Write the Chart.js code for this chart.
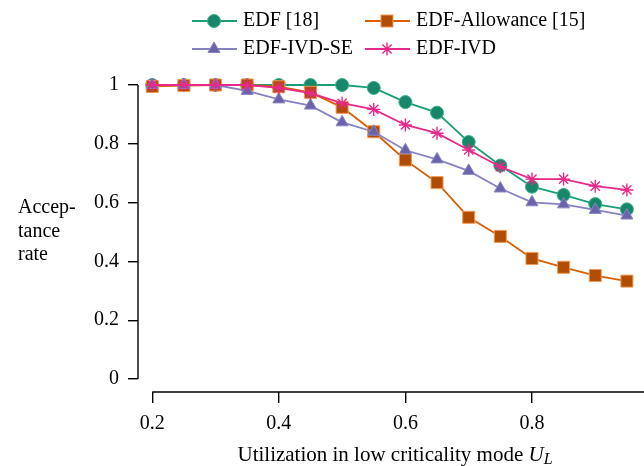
<!DOCTYPE html>
<html>
<head>
<meta charset="utf-8">
<script src="https://cdn.jsdelivr.net/npm/chart.js@4/dist/chart.umd.min.js"></script>
<style>
  body { margin: 0; background: #fff; }
  #wrap { width: 644px; height: 466px; }
</style>
</head>
<body>
<div id="wrap"><canvas id="acceptChart" width="644" height="466"></canvas></div>
<script>
// Utilization values on the x axis
const utilization = [0.2, 0.25, 0.3, 0.35, 0.4, 0.45, 0.5, 0.55, 0.6, 0.65, 0.7, 0.75, 0.8, 0.85, 0.9, 0.95];

// Acceptance rate per algorithm
const edf = [1, 1, 1, 1, 1, 1, 1, 0.99, 0.942, 0.906, 0.806, 0.726, 0.654, 0.626, 0.595, 0.577];
const edfAllowance = [0.995, 0.998, 1, 1, 0.994, 0.975, 0.924, 0.841, 0.745, 0.668, 0.55, 0.485, 0.41, 0.38, 0.352, 0.333];
const edfIvdSe = [1, 1, 1, 0.98, 0.951, 0.93, 0.873, 0.841, 0.778, 0.747, 0.708, 0.648, 0.601, 0.594, 0.575, 0.556];
const edfIvd = [1, 1, 1, 1, 0.99, 0.972, 0.938, 0.917, 0.864, 0.836, 0.779, 0.722, 0.68, 0.68, 0.656, 0.643];

const xTicks = [0.2, 0.4, 0.6, 0.8];
const yTicks = [0, 0.2, 0.4, 0.6, 0.8, 1];

const FONT = '"Liberation Serif", "Times New Roman", serif';

function toPoints(values) {
    return values.map((v, i) => ({ x: utilization[i], y: v }));
}

// Series styles, kept apart from the data
const series = [
    { label: 'EDF [18]', data: edf, line: '#1b9e77', fill: '#17876a', edge: '#3bb08c', style: 'circle', radius: 6.5, order: 4 },
    { label: 'EDF-Allowance [15]', data: edfAllowance, line: '#d95f02', fill: '#b04d00', edge: '#f29a55', style: 'rect', radius: 8.5, order: 3 },
    { label: 'EDF-IVD-SE', data: edfIvdSe, line: '#8782c2', fill: '#6a63ab', edge: '#8a85c4', style: 'triangle', radius: 7, order: 2 },
    { label: 'EDF-IVD', data: edfIvd, line: '#e7298a', fill: '#e7298a', edge: '#e7298a', style: 'star', radius: 6.5, order: 1 }
];

// Draws the detached axis lines, the legend and the axis titles
const decorations = {
    id: 'decorations',
    afterDraw(chart) {
        const { ctx, chartArea, scales } = chart;
        const x = scales.x, y = scales.y;
        ctx.save();
        ctx.strokeStyle = '#000';
        ctx.lineWidth = 1.4;
        // y axis line from 0 to 1
        ctx.beginPath();
        ctx.moveTo(chartArea.left, y.getPixelForValue(0));
        ctx.lineTo(chartArea.left, y.getPixelForValue(1));
        ctx.stroke();
        // x axis line from 0.2 to right edge
        ctx.beginPath();
        ctx.moveTo(x.getPixelForValue(0.2), chartArea.bottom);
        ctx.lineTo(chart.width, chartArea.bottom);
        ctx.stroke();

        // legend, two columns
        const slots = [[192, 21], [365, 21], [192, 49], [365, 49]];
        ctx.font = '20px ' + FONT;
        ctx.textBaseline = 'middle';
        ctx.textAlign = 'left';
        series.forEach((s, i) => {
            const [lx, ly] = slots[i];
            ctx.strokeStyle = s.line;
            ctx.lineWidth = 1.8;
            ctx.beginPath();
            ctx.moveTo(lx, ly);
            ctx.lineTo(lx + 45, ly);
            ctx.stroke();
            ctx.fillStyle = s.fill;
            ctx.strokeStyle = s.style === 'star' ? s.line : s.edge;
            ctx.lineWidth = s.style === 'star' ? 1.4 : 1;
            Chart.helpers.drawPoint(ctx, { pointStyle: s.style, radius: s.radius, borderWidth: 1, rotation: 0 }, lx + 22, ly);
            ctx.fillStyle = '#000';
            ctx.fillText(s.label, lx + 51, ly);
        });

        // y axis title
        ctx.fillStyle = '#000';
        ctx.textBaseline = 'alphabetic';
        ctx.fillText('Accep-', 18, 213);
        ctx.fillText('tance', 18, 237);
        ctx.fillText('rate', 18, 260);

        // x axis title with italic U_L
        const plain = 'Utilization in low criticality mode ';
        ctx.font = '21px ' + FONT;
        const w1 = ctx.measureText(plain).width;
        ctx.font = 'italic 21px ' + FONT;
        const w2 = ctx.measureText('U').width;
        ctx.font = 'italic 16px ' + FONT;
        const w3 = ctx.measureText('L').width;
        let tx = 395 - (w1 + w2 + w3) / 2;
        const ty = 461;
        ctx.font = '21px ' + FONT;
        ctx.fillText(plain, tx, ty);
        tx += w1;
        ctx.font = 'italic 21px ' + FONT;
        ctx.fillText('U', tx, ty);
        tx += w2;
        ctx.font = 'italic 16px ' + FONT;
        ctx.fillText('L', tx, ty + 3);
        ctx.restore();
    }
};

new Chart(document.getElementById('acceptChart'), {
    type: 'line',
    data: {
        datasets: series.map(s => ({
            label: s.label,
            data: toPoints(s.data),
            borderColor: s.line,
            borderWidth: 1.8,
            pointStyle: s.style,
            pointRadius: s.radius,
            pointBackgroundColor: s.fill,
            pointBorderColor: s.style === 'star' ? s.line : s.edge,
            pointBorderWidth: s.style === 'star' ? 1.4 : 1,
            tension: 0,
            fill: false,
            clip: false,
            order: s.order
        }))
    },
    options: {
        responsive: false,
        animation: false,
        events: [],
        layout: { padding: { left: 20, right: 0, top: 85, bottom: 0 } },
        plugins: { legend: { display: false }, tooltip: { enabled: false } },
        scales: {
            x: {
                type: 'linear',
                min: 0.1775,
                max: 0.962,
                afterBuildTicks: scale => { scale.ticks = xTicks.map(v => ({ value: v })); },
                afterFit: scale => { scale.height = 74; },
                border: { display: false },
                grid: { drawOnChartArea: false, tickLength: 11, color: '#000', lineWidth: 1.4 },
                ticks: { font: { family: FONT, size: 20 }, color: '#000', padding: 9, maxRotation: 0, callback: v => v.toString() }
            },
            y: {
                type: 'linear',
                min: -0.0442,
                max: 1,
                afterBuildTicks: scale => { scale.ticks = yTicks.map(v => ({ value: v })); },
                afterFit: scale => { scale.width = 118; },
                border: { display: false },
                grid: { drawOnChartArea: false, tickLength: 10, color: '#000', lineWidth: 1.4 },
                ticks: { font: { family: FONT, size: 20 }, color: '#000', padding: 9, callback: v => v.toString() }
            }
        }
    },
    plugins: [decorations]
});
</script>
</body>
</html>
